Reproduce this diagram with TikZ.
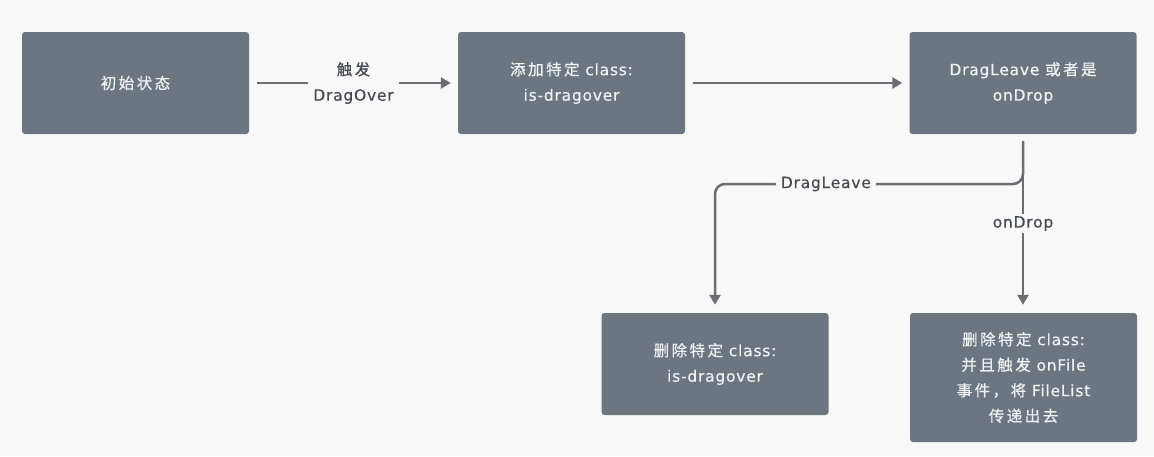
\documentclass[tikz,border=0pt]{standalone}
\usepackage{fontspec}
\setmainfont{DejaVu Sans}[LetterSpace=5, FakeBold=0.4]
\newfontfamily\zh{Noto Sans CJK SC}[LetterSpace=16, FakeBold=0.6]
\usetikzlibrary{arrows.meta}
\definecolor{bg}{HTML}{F8F8F8}
\definecolor{boxfill}{HTML}{6C7580}
\definecolor{boxtext}{HTML}{F0F2F4}
\definecolor{linec}{HTML}{6A6E73}
\definecolor{labtext}{HTML}{454A50}
\begin{document}
\begin{tikzpicture}[x=1pt,y=-1pt,
  box/.style={draw=none, fill=boxfill, rounded corners=3pt, minimum width=227pt,
    minimum height=102pt, text=boxtext, align=center,
    font=\fontsize{15.5}{25.5}\selectfont, inner sep=0pt},
  conn/.style={draw=linec, line width=2.5pt, -{Triangle[length=10pt,width=11pt]}},
  lab/.style={fill=bg, text=labtext, align=center,
    font=\fontsize{15.5}{25.5}\selectfont, inner xsep=5pt, inner ysep=2pt}]
\fill[bg] (0,0) rectangle (1154,456);
\useasboundingbox (0,0) rectangle (1154,456);

\node[box] (A) at (135.5,83) {{\zh 初始状态}};
\node[box] (B) at (571.5,83) {{\zh 添加特定} class:\\is-dragover};
\node[box] (C) at (1023,83) {DragLeave {\zh 或者是}\\onDrop};
\node[box] (D) at (715,364) {{\zh 删除特定} class:\\is-dragover};
\node[box, minimum height=129pt] (E) at (1023.5,377.5)
  {{\zh 删除特定} class:\\{\zh 并且触发} onFile\\{\zh 事件，将} FileList\\{\zh 传递出去}};

\draw[conn, shorten <=8pt, shorten >=7pt] (A) -- node[lab] {{\zh 触发}\\DragOver} (B);
\draw[conn, shorten <=8pt, shorten >=7pt] (B) -- (C);
\draw[conn, shorten <=7pt, shorten >=8pt] (C.south) -- node[lab] {onDrop} (C.south |- E.north);
\coordinate (br) at (1023,184);
\draw[conn, rounded corners=10pt, shorten >=8pt] ([yshift=-7pt]C.south) -- (br)
  -| node[lab, pos=0.32] {DragLeave} (D.north);
\end{tikzpicture}
\end{document}
